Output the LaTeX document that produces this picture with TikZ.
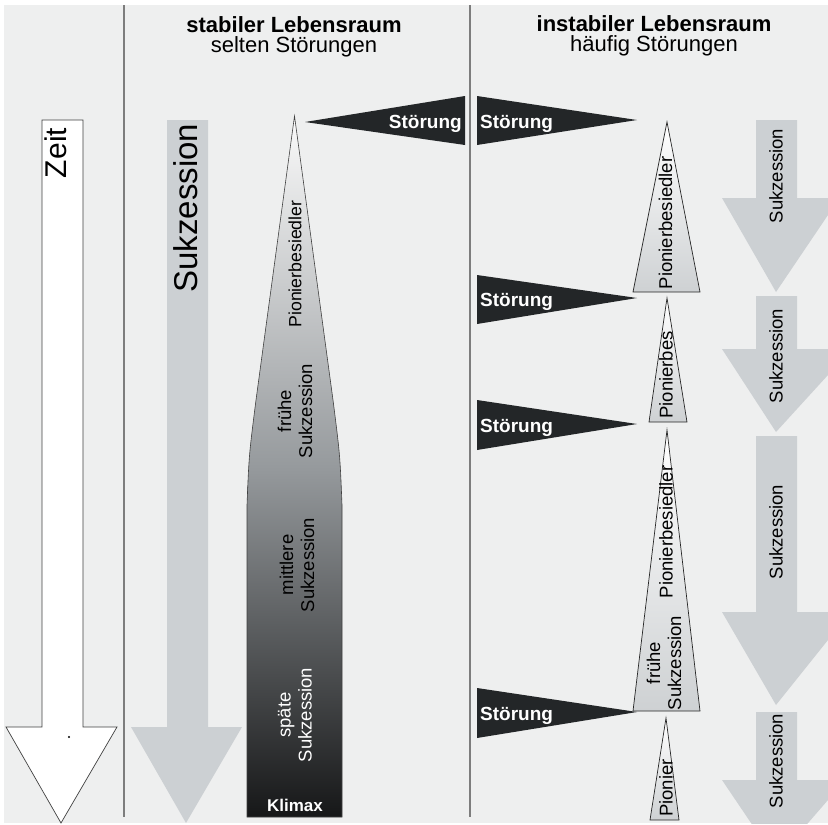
\documentclass[tikz,border=0pt]{standalone}
\usepackage{fontspec}
\setmainfont{Liberation Sans}
\usepackage{tikz}
\definecolor{bggray}{RGB}{238,239,239}
\definecolor{arrowgray}{RGB}{204,208,211}
\definecolor{wedgeblack}{RGB}{35,38,40}
\definecolor{linegray}{RGB}{125,125,125}
\definecolor{shadetop}{RGB}{250,250,250}
\definecolor{shademid}{RGB}{150,154,157}
\definecolor{shadebot}{RGB}{22,23,24}
\definecolor{pinbot}{RGB}{206,209,211}
\tikzstyle{sep}=[draw=linegray, line width=1.2pt]
\tikzstyle{hdr}=[inner sep=0pt, font=\fontsize{22}{24}\selectfont]
\tikzstyle{vtxt}=[rotate=90, inner sep=0pt, align=center, font=\fontsize{18.5}{21}\selectfont]
\tikzstyle{stoer}=[inner sep=0pt, text=white, font=\bfseries\fontsize{19}{19}\selectfont]
\tikzstyle{wedge}=[fill=wedgeblack]
\tikzstyle{sukz}=[fill=arrowgray]
\tikzstyle{pion}=[draw=black!85, line width=.7pt, top color=white, bottom color=pinbot]

\begin{document}
\begin{tikzpicture}[x=1pt,y=-1pt]
      \useasboundingbox (0,0) rectangle (828,825);
      \fill[bggray] (4,5) rectangle (828,823);

      \draw[sep] (124,5) -- (124,817);
      \draw[sep] (470,5) -- (470,817);

      \node[hdr] (h1) at (294,25) {\bfseries stabiler Lebensraum};
      \node[hdr] (h2) at (294,47) {selten Störungen};
      \node[hdr] (h3) at (654,24) {\bfseries instabiler Lebensraum};
      \node[hdr] (h4) at (654,46) {häufig Störungen};

      \draw[fill=white, draw=black!75, line width=.7pt] (42,120) -- (83,120) -- (83,727) -- (117,727)
            -- (61,823) -- (6,727) -- (42,727) -- cycle;
      \fill (69,737) circle (1.2);
      \node[vtxt, font=\fontsize{30}{30}\selectfont] (zeit) at (56,153) {Zeit};

      \fill[sukz] (167,120) -- (208,120) -- (208,727) -- (242,727) -- (186,823) -- (131,727)
            -- (167,727) -- cycle;
      \node[vtxt, font=\fontsize{33}{33}\selectfont] (sk0) at (186,208) {Sukzession};

      \draw[draw=black!75, line width=.6pt, top color=shadetop, bottom color=shadebot, middle color=shademid]
            (294.5,116) -- (256,400) .. controls (249,455) .. (247,505) -- (247,817)
            -- (342,817) -- (342,505) .. controls (340,455) .. (333,400) -- cycle;
      \node[vtxt, font=\fontsize{17.7}{20}\selectfont] (p0) at (295,264) {Pionierbesiedler};
      \node[vtxt] (fs0) at (295,411) {frühe\\Sukzession};
      \node[vtxt] (ms0) at (297,565) {mittlere\\Sukzession};
      \node[vtxt, text=white] (ss0) at (295,715) {späte\\Sukzession};
      \node[stoer, font=\bfseries\fontsize{17}{17}\selectfont] (klimax) at (295,805) {Klimax};

      \fill[wedge] (305,122) -- (465,96) -- (465,145) -- cycle;
      \node[stoer, anchor=base east] (s0) at (462,128) {Störung};

      \fill[wedge] (477,96) -- (637,120) -- (477,145) -- cycle;
      \fill[wedge] (477,275) -- (637,298) -- (477,324) -- cycle;
      \fill[wedge] (477,400) -- (637,424) -- (477,450) -- cycle;
      \fill[wedge] (477,688) -- (637,712) -- (477,738) -- cycle;
      \node[stoer, anchor=base west] (s1) at (480,128) {Störung};
      \node[stoer, anchor=base west] (s2) at (480,306) {Störung};
      \node[stoer, anchor=base west] (s3) at (480,432) {Störung};
      \node[stoer, anchor=base west] (s4) at (480,720) {Störung};

      \draw[pion] (667,122) -- (700,292) -- (633,292) -- cycle;
      \draw[pion] (667,298) -- (687,422) -- (649,422) -- cycle;
      \draw[pion] (667,430) -- (700,711) -- (633,711) -- cycle;
      \draw[pion] (666,718) -- (679,820) -- (650,820) -- cycle;
      \node[vtxt] (p1) at (665.5,223) {Pionierbesiedler};
      \node[vtxt] (p2) at (666,375) {Pionierbes};
      \node[vtxt] (p3) at (666,532) {Pionierbesiedler};
      \node[vtxt] (fs3) at (664,663) {frühe\\Sukzession};
      \node[vtxt] (p4) at (666,788) {Pionier};

      \fill[sukz] (756,120) -- (797,120) -- (797,198) -- (828,198) -- (828,215) -- (776,292)
            -- (722,198) -- (756,198) -- cycle;
      \fill[sukz] (756,296) -- (797,296) -- (797,349) -- (828,349) -- (828,375) -- (776,432)
            -- (722,349) -- (756,349) -- cycle;
      \fill[sukz] (756,436) -- (797,436) -- (797,612) -- (828,612) -- (828,640) -- (776,705)
            -- (722,612) -- (756,612) -- cycle;
      \begin{scope}
        \clip (700,700) rectangle (828,823);
        \fill[sukz] (756,712) -- (797,712) -- (797,780) -- (828,780) -- (828,800) -- (776,860)
              -- (722,780) -- (756,780) -- cycle;
      \end{scope}
      \node[vtxt] (sk1) at (776,176) {Sukzession};
      \node[vtxt] (sk2) at (776,356) {Sukzession};
      \node[vtxt] (sk3) at (776,532) {Sukzession};
      \node[vtxt] (sk4) at (776,761) {Sukzession};
    \end{tikzpicture}
\end{document}
